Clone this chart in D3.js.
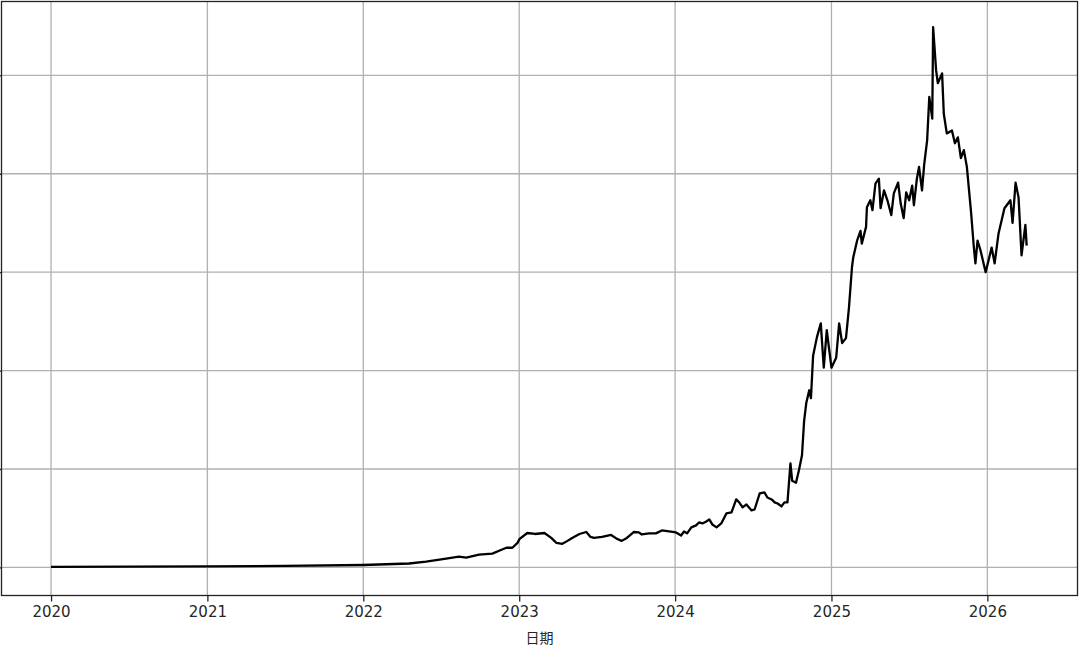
<!DOCTYPE html>
<html>
<head>
<meta charset="utf-8">
<script src="https://cdn.jsdelivr.net/npm/d3@7"></script>
<style>
  body { margin: 0; background: #fff; }
  svg { display: block; }
  .tick text { font-family: "DejaVu Sans", sans-serif; font-size: 15px; fill: #262626; }
</style>
</head>
<body>
<div id="chart"></div>
<script>
// dates and values
const dates = [
  "2020-01-01", "2020-07-01", "2021-01-01", "2021-07-01", "2022-01-01", "2022-04-18",
  "2022-05-28", "2022-07-14", "2022-08-13", "2022-08-30", "2022-09-29", "2022-10-30",
  "2022-11-15", "2022-12-02", "2022-12-16", "2022-12-28", "2023-01-02", "2023-01-20",
  "2023-02-07", "2023-03-01", "2023-03-17", "2023-03-29", "2023-04-12", "2023-04-24",
  "2023-05-05", "2023-05-22", "2023-06-07", "2023-06-17", "2023-06-25", "2023-07-14",
  "2023-08-04", "2023-08-18", "2023-08-29", "2023-09-10", "2023-09-26", "2023-10-08",
  "2023-10-15", "2023-11-01", "2023-11-17", "2023-12-01", "2023-12-18", "2024-01-03",
  "2024-01-15", "2024-01-22", "2024-01-29", "2024-02-08", "2024-02-19", "2024-02-26",
  "2024-03-05", "2024-03-14", "2024-03-21", "2024-03-28", "2024-04-07", "2024-04-18",
  "2024-04-30", "2024-05-12", "2024-05-23", "2024-05-30", "2024-06-07", "2024-06-16",
  "2024-06-28", "2024-07-05", "2024-07-17", "2024-07-28", "2024-08-04", "2024-08-14",
  "2024-08-21", "2024-08-28", "2024-09-06", "2024-09-13", "2024-09-20", "2024-09-27",
  "2024-10-01", "2024-10-10", "2024-10-17", "2024-10-24", "2024-10-29", "2024-11-03",
  "2024-11-10", "2024-11-14", "2024-11-19", "2024-11-28", "2024-12-07", "2024-12-14",
  "2024-12-21", "2025-01-01", "2025-01-12", "2025-01-19", "2025-01-26", "2025-02-04",
  "2025-02-11", "2025-02-18", "2025-02-21", "2025-03-02", "2025-03-10", "2025-03-13",
  "2025-03-23", "2025-03-25", "2025-04-02", "2025-04-07", "2025-04-14", "2025-04-22",
  "2025-04-26", "2025-05-04", "2025-05-12", "2025-05-21", "2025-05-27", "2025-06-06",
  "2025-06-12", "2025-06-19", "2025-06-25", "2025-07-02", "2025-07-09", "2025-07-13",
  "2025-07-20", "2025-07-25", "2025-08-01", "2025-08-06", "2025-08-13", "2025-08-18",
  "2025-08-25", "2025-08-27", "2025-09-03", "2025-09-07", "2025-09-17", "2025-09-21",
  "2025-09-28", "2025-10-10", "2025-10-17", "2025-10-24", "2025-10-31", "2025-11-07",
  "2025-11-14", "2025-11-24", "2025-11-30", "2025-12-04", "2025-12-09", "2025-12-16",
  "2025-12-28", "2026-01-11", "2026-01-18", "2026-01-27", "2026-02-10", "2026-02-24",
  "2026-03-01", "2026-03-08", "2026-03-15", "2026-03-22", "2026-03-31", "2026-04-03"
];
const values = [
  0.5, 0.8, 1.0, 1.5, 2.5, 4,
  6, 9, 11, 10, 13, 14,
  17, 20, 20, 25, 29, 35,
  34, 35, 30, 25, 24, 27,
  30, 34, 36, 31, 30, 31,
  33, 29, 27, 30, 36, 35.6,
  33.5, 34.6, 34.6, 37.6, 36.6, 35.6,
  32.5, 36.6, 34.6, 40.7, 42.7, 45.7,
  44.7, 46.7, 48.8, 43.7, 40.7, 44.7,
  54.9, 55.9, 69.1, 66.1, 61, 64,
  57.9, 58.9, 75.2, 76.2, 71.1, 69.1,
  66.1, 65, 62, 66.1, 66.1, 105.7,
  88, 86, 99, 114, 149, 167,
  180, 172, 215, 234, 248, 203,
  241, 203, 213, 248, 228, 233,
  264, 305, 315, 332, 342, 329,
  346, 366, 373, 363, 390, 395,
  365, 383, 373, 358, 380, 391,
  370, 355, 381, 373, 388, 368,
  395, 407, 383, 409, 434, 478,
  456, 549, 505, 492, 502, 461,
  441, 444, 431, 437, 416, 424,
  407, 360, 327, 309, 332, 322,
  300, 325, 309, 339, 365, 373,
  350, 391, 376, 317, 348, 327
];
const yearTicks = [2020, 2021, 2022, 2023, 2024, 2025, 2026];
const yTicks = [0, 100, 200, 300, 400, 500];
const xLabel = "日期";

const width = 1080, height = 651;
const margin = { top: 1.5, right: 2.5, bottom: 55.5, left: 1.5 };

const parse = d3.timeParse("%Y-%m-%d");
const data = dates.map((d, i) => ({ date: parse(d), value: values[i] }));

const svg = d3.select("#chart").append("svg")
  .attr("width", width)
  .attr("height", height);

const x = d3.scaleTime()
  .domain([new Date(2019, 8, 7), new Date(2026, 6, 31)])
  .range([margin.left, width - margin.right]);

const y = d3.scaleLinear()
  .domain([-28.5, 575])
  .range([height - margin.bottom, margin.top]);

const tickDates = yearTicks.map(t => new Date(t, 0, 1));

// grid
svg.append("g")
  .selectAll("line")
  .data(tickDates)
  .join("line")
  .attr("x1", d => x(d)).attr("x2", d => x(d))
  .attr("y1", margin.top).attr("y2", height - margin.bottom)
  .attr("stroke", "#b0b0b0").attr("stroke-width", 1.3);

svg.append("g")
  .selectAll("line")
  .data(yTicks)
  .join("line")
  .attr("x1", margin.left).attr("x2", width - margin.right)
  .attr("y1", d => y(d)).attr("y2", d => y(d))
  .attr("stroke", "#b0b0b0").attr("stroke-width", 1.3);

// line
const line = d3.line()
  .x(d => x(d.date))
  .y(d => y(d.value));

svg.append("path")
  .datum(data)
  .attr("fill", "none")
  .attr("stroke", "#000")
  .attr("stroke-width", 2.3)
  .attr("stroke-linejoin", "round")
  .attr("d", line);

// axes
const xAxis = svg.append("g")
  .attr("transform", `translate(0, ${height - margin.bottom})`)
  .call(d3.axisBottom(x).tickValues(tickDates).tickFormat(d3.timeFormat("%Y")).tickSize(6).tickPadding(5));
xAxis.select(".domain").remove();
xAxis.selectAll(".tick line").attr("stroke", "#222").attr("stroke-width", 1.3);

const yAxis = svg.append("g")
  .attr("transform", `translate(${margin.left}, 0)`)
  .call(d3.axisLeft(y).tickValues(yTicks).tickFormat("").tickSize(6));
yAxis.select(".domain").remove();
yAxis.selectAll(".tick line").attr("stroke", "#222").attr("stroke-width", 1.3);

// frame
svg.append("rect")
  .attr("x", margin.left).attr("y", margin.top)
  .attr("width", width - margin.left - margin.right)
  .attr("height", height - margin.top - margin.bottom)
  .attr("fill", "none")
  .attr("stroke", "#222")
  .attr("stroke-width", 1.3);

svg.append("text")
  .attr("x", (margin.left + width - margin.right) / 2)
  .attr("y", 643)
  .attr("text-anchor", "middle")
  .attr("font-family", "'Noto Sans CJK SC', sans-serif")
  .attr("font-size", 14)
  .attr("fill", "#262626")
  .text(xLabel);
</script>
</body>
</html>
